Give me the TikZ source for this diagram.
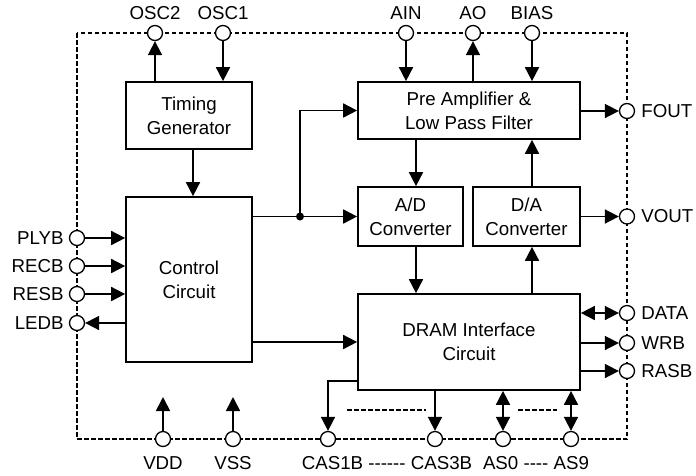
\documentclass[tikz,border=0pt]{standalone}
\usepackage{fontspec}
\setmainfont{Liberation Sans}
\usetikzlibrary{arrows.meta}
\begin{document}
\begin{tikzpicture}[x=1pt,y=-1pt,
  every node/.style={font=\fontsize{18.7}{24}\selectfont},
  blk/.style={draw,line width=1.7pt,align=center,inner sep=0pt,fill=white},
  pin/.style={circle,draw,fill=white,inner sep=0pt,minimum size=15pt,line width=1.3pt},
  conn/.style={line width=1.7pt},
  arr/.style={conn,-{Triangle[length=14pt,width=14pt]}},
  darr/.style={conn,{Triangle[length=14pt,width=14pt]}-{Triangle[length=14pt,width=14pt]}},
  border/.style={line width=1.4pt,dash pattern=on 4.5pt off 2.5pt},
  dot/.style={circle,fill=black,inner sep=0pt,minimum size=8pt},
  pl/.style={inner sep=0pt}
]
\useasboundingbox (0,0) rectangle (696,475);
\draw[border] (77,33) rectangle (627,439);

% blocks
\node[blk,minimum width=126,minimum height=67] (tg) at (189,115.5) {Timing\\Generator};
\node[blk,minimum width=126,minimum height=165] (cc) at (189,279.5) {Control\\Circuit};
\node[blk,minimum width=222,minimum height=57] (pre) at (469,110.5) {Pre Amplifier \&\\Low Pass Filter};
\node[blk,minimum width=105,minimum height=59] (ad) at (410.5,216.5) {A/D\\Converter};
\node[blk,minimum width=107,minimum height=59] (da) at (526.5,216.5) {D/A\\Converter};
\node[blk,minimum width=222,minimum height=96] (dram) at (469,342) {DRAM Interface\\Circuit};

% pins top
\node[pin,label={[pl,label distance=5pt]above:OSC2}] (osc2) at (155,33) {};
\node[pin,label={[pl,label distance=5pt]above:OSC1}] (osc1) at (223,33) {};
\node[pin,label={[pl,label distance=5pt]above:AIN}] (ain) at (406,33) {};
\node[pin,label={[pl,label distance=5pt]above:AO}] (ao) at (473,33) {};
\node[pin,label={[pl,label distance=5pt]above:BIAS}] (bias) at (532,33) {};
% pins left
\node[pin,label={[pl,label distance=5pt]left:PLYB}] (plyb) at (77,238) {};
\node[pin,label={[pl,label distance=5pt]left:RECB}] (recb) at (77,266) {};
\node[pin,label={[pl,label distance=5pt]left:RESB}] (resb) at (77,294) {};
\node[pin,label={[pl,label distance=5pt]left:LEDB}] (ledb) at (77,323) {};
% pins right
\node[pin,label={[pl,label distance=6pt]right:FOUT}] (fout) at (627,111) {};
\node[pin,label={[pl,label distance=6pt]right:VOUT}] (vout) at (627,216.5) {};
\node[pin,label={[pl,label distance=6pt]right:DATA}] (data) at (627,313) {};
\node[pin,label={[pl,label distance=6pt]right:WRB}] (wrb) at (627,343) {};
\node[pin,label={[pl,label distance=6pt]right:RASB}] (rasb) at (627,371) {};
% pins bottom
\node[pin,label={[pl,label distance=9pt]below:VDD}] (vdd) at (163,439) {};
\node[pin,label={[pl,label distance=9pt]below:VSS}] (vss) at (233,439) {};
\node[pin] (cas1b) at (328,439) {};
\node[pin] (cas3b) at (435,439) {};
\node[pin] (as0) at (503,439) {};
\node[pin] (as9) at (571,439) {};
\node[pl,anchor=north] (lcas) at (387,456) {CAS1B -{}-{}-{}-{}-{}- CAS3B};
\node[pl,anchor=north] (las) at (536,456) {AS0 -{}-{}-{}- AS9};

% coordinates
\coordinate (vx1) at (416,0);
\coordinate (vx2) at (532,0);
\coordinate (tgx) at (193,0);
\coordinate (vddt) at (163,397);
\coordinate (vsst) at (233,397);
\coordinate (c1) at (328,381);
\coordinate (d1) at (347,410);
\coordinate (d2) at (426,410);
\coordinate (d3) at (518,410);
\coordinate (d4) at (557,410);
\node[dot] (jn) at (300,216.5) {};

% top connections
\draw[arr] (tg.north -| osc2) -- (osc2);
\draw[arr] (osc1) -- (tg.north -| osc1);
\draw[arr] (ain) -- (pre.north -| ain);
\draw[arr] (pre.north -| ao) -- (ao);
\draw[arr] (bias) -- (pre.north -| bias);

% internal
\draw[arr] (tg.south -| tgx) -- (cc.north -| tgx);
\draw[conn] (cc.east |- jn) -- (jn.center);
\draw[arr] (jn.center) -- (ad.west);
\draw[arr] (jn.center) |- (pre.west);
\draw[arr] (pre.south -| vx1) -- (ad.north -| vx1);
\draw[arr] (da.north -| vx2) -- (pre.south -| vx2);
\draw[arr] (ad.south -| vx1) -- (dram.north -| vx1);
\draw[arr] (dram.north -| vx2) -- (da.south -| vx2);
\draw[arr] (cc.east |- dram.west) -- (dram.west);

% left
\draw[arr] (plyb) -- (cc.west |- plyb);
\draw[arr] (recb) -- (cc.west |- recb);
\draw[arr] (resb) -- (cc.west |- resb);
\draw[arr] (cc.west |- ledb) -- (ledb);

% right
\draw[arr] (pre.east |- fout) -- (fout);
\draw[arr] (da.east |- vout) -- (vout);
\draw[darr] (dram.east |- data) -- (data);
\draw[arr] (dram.east |- wrb) -- (wrb);
\draw[arr] (dram.east |- rasb) -- (rasb);

% bottom
\draw[arr] (vdd) -- (vddt);
\draw[arr] (vss) -- (vsst);
\draw[arr] (dram.west |- c1) -| (cas1b);
\draw[arr] (dram.south -| cas3b) -- (cas3b);
\draw[darr] (dram.south -| as0) -- (as0);
\draw[darr] (dram.south -| as9) -- (as9);
\draw[border] (d1) -- (d2);
\draw[border] (d3) -- (d4);
\end{tikzpicture}
\end{document}
